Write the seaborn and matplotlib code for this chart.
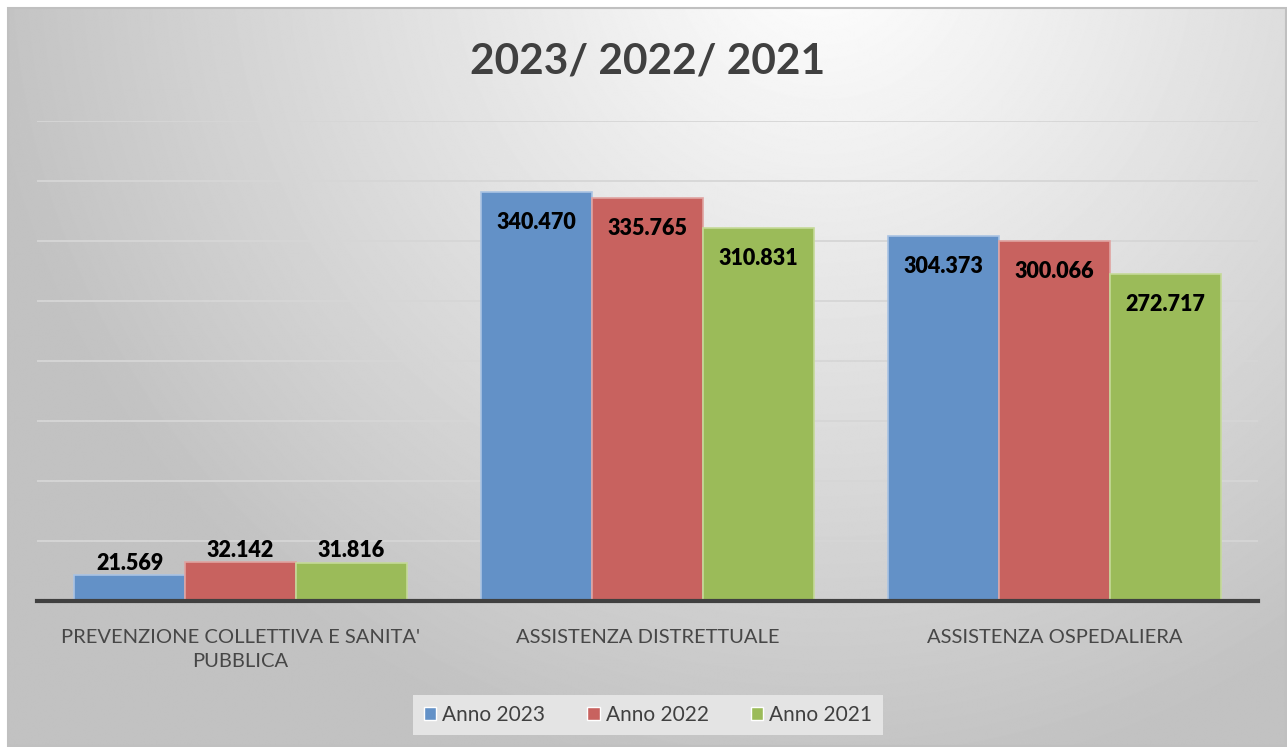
import numpy as np
import pandas as pd
import seaborn as sns
import matplotlib.pyplot as plt
from matplotlib.patches import Rectangle

# data
categories = ["PREVENZIONE COLLETTIVA E SANITA'\nPUBBLICA", "ASSISTENZA DISTRETTUALE", "ASSISTENZA OSPEDALIERA"]
years = ["Anno 2023", "Anno 2022", "Anno 2021"]
anno_2023 = [21.569, 340.470, 304.373]
anno_2022 = [32.142, 335.765, 300.066]
anno_2021 = [31.816, 310.831, 272.717]

colors = ["#6391c7", "#c8625f", "#9bbb59"]
edges = ["#a9c3e3", "#e0a3a1", "#c5da98"]

rows = []
for year, vals in zip(years, [anno_2023, anno_2022, anno_2021]):
    for cat, v in zip(categories, vals):
        rows.append({"categoria": cat, "anno": year, "valore": v})
df = pd.DataFrame(rows)

sns.set_style("white")
plt.rcParams['font.family'] = ['Lato', 'DejaVu Sans']

W, H = 1287, 747
fig = plt.figure(figsize=(W / 100, H / 100), dpi=100)

# gradient background with a thin frame
bg = fig.add_axes([0, 0, 1, 1], zorder=-2)
bg.set_xlim(0, W)
bg.set_ylim(H, 0)
bg.axis('off')
yy, xx = np.mgrid[0:H, 0:W]
d = np.sqrt(((xx - 820) / 850.0) ** 2 + ((yy + 60) / 850.0) ** 2)
shade = 1.0 - 0.24 * np.clip(d, 0, 1)
bg.imshow(shade, cmap='gray', vmin=0, vmax=1, extent=(8, 1286, 746, 8), aspect='auto', zorder=0)
bg.add_patch(Rectangle((8, 8), 1278, 738, fill=False, edgecolor='#c0c0c0', lw=1.5, zorder=1))

ax = fig.add_axes([37 / W, 1 - 601 / H, 1221 / W, 480 / H])
ax.patch.set_alpha(0)
sns.barplot(data=df, x="categoria", y="valore", hue="anno", palette=colors, saturation=1,
            width=0.818, gap=0, ax=ax, legend=True, zorder=3)

for i, cont in enumerate(ax.containers):
    for bar in cont:
        bar.set_edgecolor(edges[i])
        bar.set_linewidth(1.2)
        v = bar.get_height()
        x = bar.get_x() + bar.get_width() / 2
        if v < 100:
            ax.annotate(f"{v:.3f}", (x, v), xytext=(0, 1), textcoords='offset points',
                        ha='center', va='bottom', fontsize=15.5, fontweight='heavy', color='black')
        else:
            ax.annotate(f"{v:.3f}", (x, v), xytext=(0, -22), textcoords='offset points',
                        ha='center', va='center', fontsize=15.5, fontweight='heavy', color='black')

ax.set_xlim(-0.5, 2.5)
ax.set_ylim(0, 400)
ax.set_yticks(np.arange(50, 401, 50))
ax.set_yticklabels([])
ax.yaxis.grid(True, color='#d6d6d6', lw=1.3, zorder=0)
ax.tick_params(axis='both', length=0)
ax.tick_params(axis='x', labelsize=14.5, labelcolor='#474747', pad=20)
for lab in ax.get_xticklabels():
    lab.set_linespacing(1.55)
for s in ['left', 'right', 'top']:
    ax.spines[s].set_visible(False)
ax.spines['bottom'].set_color('#404040')
ax.spines['bottom'].set_linewidth(3)
ax.spines['bottom'].set_zorder(5)
ax.set_xlabel('')
ax.set_ylabel('')

fig.text(0.5035, 1 - 61 / H, "2023/ 2022/ 2021", ha='center', va='center',
         fontsize=30.5, fontweight='bold', color='#404040')

handles, labels = ax.get_legend_handles_labels()
ax.legend(handles, labels, loc='center', bbox_to_anchor=(648 / W, 1 - 715 / H),
          bbox_transform=fig.transFigure, ncol=3, frameon=True, facecolor='#e4e4e4',
          edgecolor='none', fancybox=False, framealpha=1, fontsize=15,
          handlelength=0.6, handleheight=0.6, handletextpad=0.3, columnspacing=2.0,
          labelcolor='#404040', borderpad=0.5)

fig.savefig("out.png", dpi=100)
